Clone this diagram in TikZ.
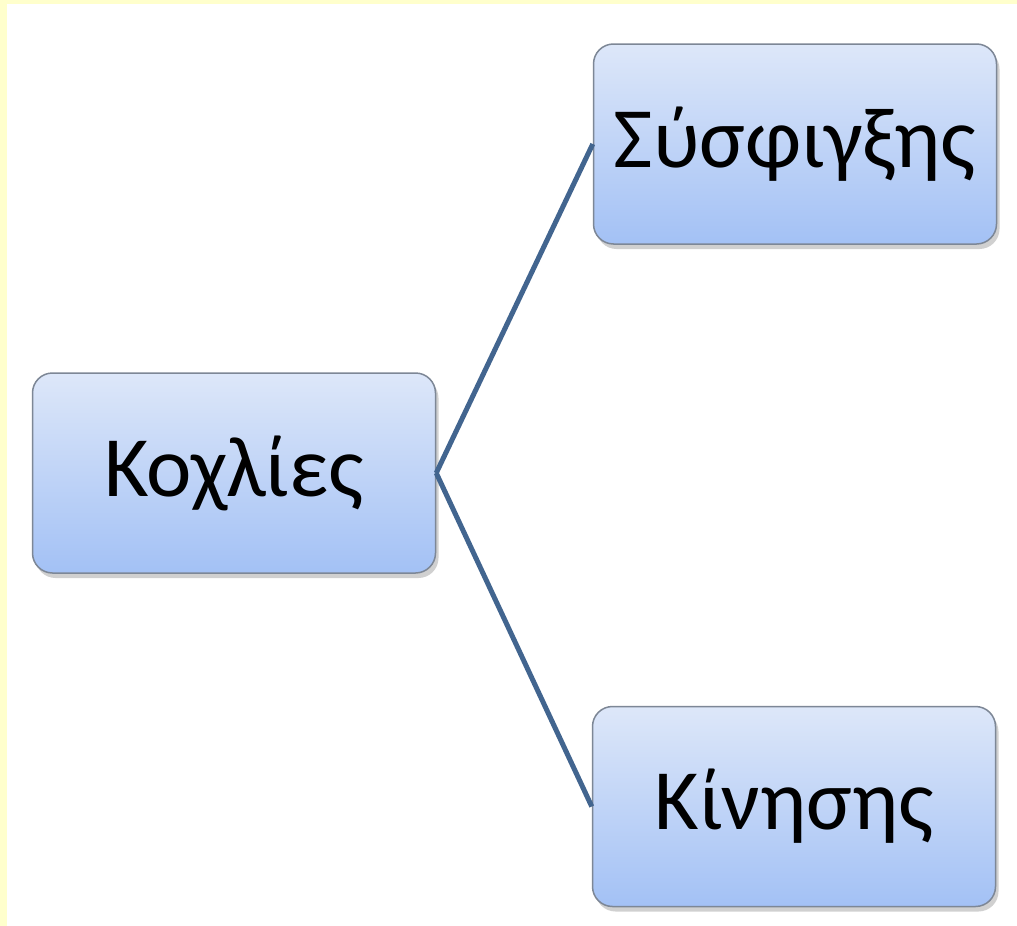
\documentclass[tikz,border=0pt]{standalone}
\usepackage{fontspec}
\setmainfont{Carlito}
\usetikzlibrary{shadows}
\definecolor{bgyellow}{HTML}{FFFFCC}
\definecolor{boxtop}{HTML}{DDE7F9}
\definecolor{boxbot}{HTML}{A3C1F5}
\definecolor{boxline}{HTML}{7D8796}
\definecolor{linkcol}{HTML}{42658F}
\tikzset{
  leaf/.style={draw=boxline, line width=1.5pt, rounded corners=20pt,
    top color=boxtop, bottom color=boxbot,
    minimum width=403pt, minimum height=200pt, inner sep=0pt,
    font=\fontsize{86}{100}\selectfont, text=black,
    drop shadow={shadow xshift=3pt, shadow yshift=-5pt, opacity=0.3, fill=black!60}},
  link/.style={draw=linkcol, line width=5pt}
}
\begin{document}
\begin{tikzpicture}[x=1pt,y=-1pt]
\useasboundingbox (0,0) rectangle (1017,926);
\fill[white] (0,0) rectangle (1017,926);
\fill[bgyellow] (0,0) rectangle (1017,4);
\fill[bgyellow] (0,0) rectangle (7,926);
\node[leaf] (root) at (234,473) {Κοχλίες};
\node[leaf] (top) at (795,144) {Σύσφιγξης};
\node[leaf] (bot) at (794,806.5) {Κίνησης};
\draw[link] (root.east) -- (top.west);
\draw[link] (root.east) -- (bot.west);
\end{tikzpicture}
\end{document}
